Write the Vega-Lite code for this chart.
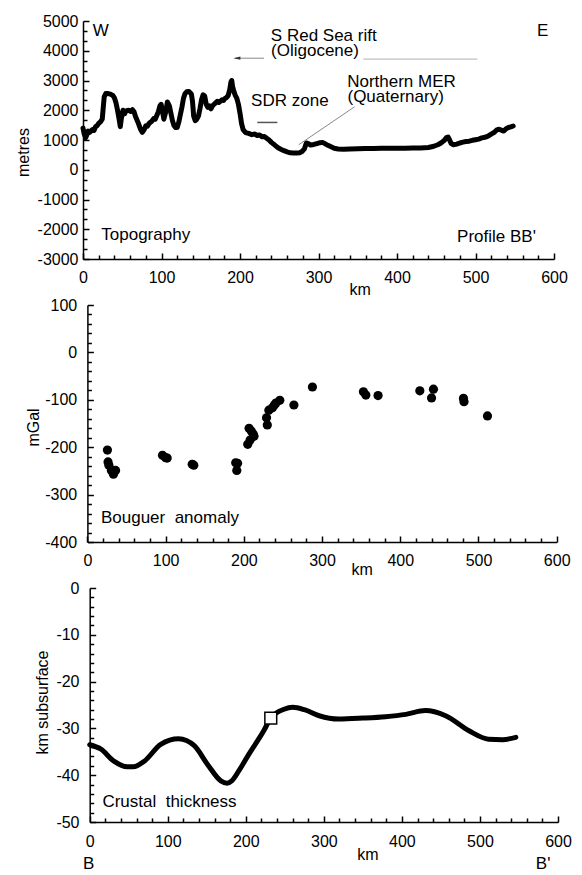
{
  "$schema": "https://vega.github.io/schema/vega-lite/v6.json",
  "padding": {"left": 15, "top": 13, "right": 0, "bottom": 0},
  "config": {
    "font": "Liberation Sans",
    "view": {"stroke": null},
    "axis": {"grid": false, "ticks": true, "domainColor": "black", "domainWidth": 1.5, "tickColor": "black", "tickWidth": 1.5, "tickSize": -6, "labelColor": "black", "labelFontSize": 16, "labelFont": "Liberation Sans", "titleFont": "Liberation Sans", "titleColor": "black", "titleFontSize": 16, "titleFontWeight": "normal", "labelFlush": false, "labelOverlap": false, "labelBound": false},
    "text": {"font": "Liberation Sans", "fontSize": 17, "color": "black"}
  },
  "spacing": 46,
  "bounds": "flush",
  "vconcat": [
    {
      "width": 475, "height": 238,
      "encoding": {
        "x": {"field": "x", "type": "quantitative",
          "scale": {"domain": [0, 600], "range": [0, 471], "nice": false, "zero": false},
          "axis": {"values": [0,20,40,60,80,100,120,140,160,180,200,220,240,260,280,300,320,340,360,380,400,420,440,460,480,500,520,540,560,580,600],
            "labelExpr": "datum.value % 100 === 0 ? '' + datum.value : ''",
            "tickSize": {"condition": {"test": "datum.value % 100 === 0", "value": -6}, "value": -4},
            "labelBaseline": "middle", "labelPadding": 24,
            "title": "km", "titleX": 276.7, "titleY": 30, "titleBaseline": "middle", "titleAlign": "center"}},
        "y": {"field": "y", "type": "quantitative",
          "scale": {"domain": [-3000, 5000], "nice": false, "zero": false},
          "axis": {"values": [-3000,-2666.67,-2333.33,-2000,-1666.67,-1333.33,-1000,-666.67,-333.33,0,333.33,666.67,1000,1333.33,1666.67,2000,2333.33,2666.67,3000,3333.33,3666.67,4000,4333.33,4666.67,5000],
            "labelExpr": "abs(datum.value % 1000) < 1 ? '' + round(datum.value) : ''",
            "tickSize": {"condition": {"test": "abs(datum.value % 1000) < 1", "value": -6}, "value": -4},
            "labelPadding": 11,
            "title": "metres", "titleX": -59.6, "titleY": 131, "titleBaseline": "middle", "titleAlign": "center", "titleAngle": -90}}
      },
      "layer": [
        {
          "data": {"values": [
            {"x":0,"y":1400},{"x":1.5,"y":1200},{"x":3.5,"y":1080},{"x":5,"y":1180},{"x":6.5,"y":1300},{"x":8,"y":1250},{"x":10,"y":1300},{"x":12,"y":1350},{"x":14,"y":1320},{"x":16,"y":1450},{"x":18,"y":1480},{"x":20,"y":1560},{"x":22.5,"y":1620},{"x":24.5,"y":1700},{"x":25.5,"y":2000},{"x":27,"y":2450},{"x":29,"y":2560},{"x":32,"y":2560},{"x":35,"y":2540},{"x":38,"y":2500},{"x":40,"y":2420},{"x":42,"y":2250},{"x":44,"y":2000},{"x":46,"y":1700},{"x":47.5,"y":1450},{"x":49,"y":1750},{"x":51,"y":2000},{"x":53,"y":1880},{"x":55,"y":1980},{"x":58,"y":2000},{"x":61,"y":1960},{"x":63,"y":2020},{"x":65,"y":1950},{"x":67,"y":1780},{"x":70,"y":1600},{"x":73,"y":1380},{"x":75.5,"y":1260},{"x":78,"y":1350},{"x":80,"y":1480},{"x":82,"y":1460},{"x":84,"y":1550},{"x":86,"y":1600},{"x":88,"y":1640},{"x":90,"y":1720},{"x":92,"y":1700},{"x":94,"y":1820},{"x":96,"y":1950},{"x":98,"y":2150},{"x":99.5,"y":2200},{"x":101,"y":2000},{"x":103,"y":1700},{"x":105,"y":1900},{"x":107.5,"y":2280},{"x":110,"y":2150},{"x":112,"y":1900},{"x":114,"y":1650},{"x":116,"y":1480},{"x":118,"y":1420},{"x":120,"y":1420},{"x":122,"y":1600},{"x":124,"y":1850},{"x":126,"y":2100},{"x":128,"y":2400},{"x":130,"y":2560},{"x":132,"y":2620},{"x":135,"y":2630},{"x":138,"y":2550},{"x":139.5,"y":2300},{"x":141,"y":1800},{"x":143,"y":1650},{"x":145,"y":1700},{"x":147,"y":1800},{"x":149,"y":2050},{"x":151,"y":2350},{"x":153,"y":2520},{"x":155,"y":2480},{"x":157,"y":2200},{"x":159,"y":2100},{"x":161,"y":2150},{"x":163,"y":2050},{"x":165,"y":2150},{"x":167,"y":2200},{"x":169,"y":2250},{"x":171,"y":2300},{"x":173,"y":2260},{"x":175,"y":2300},{"x":177,"y":2350},{"x":179,"y":2330},{"x":181,"y":2400},{"x":183,"y":2430},{"x":185,"y":2500},{"x":187,"y":2700},{"x":188.5,"y":2950},{"x":189.5,"y":3000},{"x":190.5,"y":2800},{"x":192,"y":2650},{"x":194,"y":2500},{"x":196,"y":2400},{"x":198,"y":2200},{"x":200,"y":1900},{"x":202,"y":1550},{"x":204,"y":1350},{"x":207,"y":1250},{"x":211,"y":1220},{"x":215,"y":1180},{"x":219,"y":1200},{"x":222,"y":1150},{"x":225,"y":1170},{"x":228,"y":1110},{"x":231,"y":1120},{"x":234,"y":1060},{"x":237,"y":1000},{"x":240,"y":920},{"x":243,"y":860},{"x":246,"y":790},{"x":249,"y":730},{"x":252,"y":690},{"x":256,"y":640},{"x":260,"y":600},{"x":264,"y":570},{"x":268,"y":560},{"x":272,"y":560},{"x":276,"y":570},{"x":279,"y":610},{"x":282,"y":700},{"x":284.5,"y":900},{"x":287,"y":880},{"x":290,"y":830},{"x":294,"y":850},{"x":298,"y":880},{"x":302,"y":910},{"x":305,"y":920},{"x":308,"y":880},{"x":312,"y":820},{"x":316,"y":770},{"x":320,"y":720},{"x":325,"y":700},{"x":332,"y":690},{"x":340,"y":700},{"x":350,"y":710},{"x":360,"y":715},{"x":370,"y":715},{"x":380,"y":720},{"x":390,"y":720},{"x":400,"y":720},{"x":410,"y":725},{"x":420,"y":730},{"x":430,"y":735},{"x":440,"y":750},{"x":447,"y":790},{"x":452,"y":840},{"x":456,"y":900},{"x":460,"y":980},{"x":463,"y":1080},{"x":465,"y":1100},{"x":467,"y":1000},{"x":469,"y":880},{"x":472,"y":840},{"x":476,"y":860},{"x":480,"y":900},{"x":484,"y":930},{"x":488,"y":950},{"x":492,"y":960},{"x":496,"y":990},{"x":500,"y":1010},{"x":504,"y":1030},{"x":508,"y":1070},{"x":512,"y":1090},{"x":516,"y":1130},{"x":520,"y":1200},{"x":524,"y":1260},{"x":527,"y":1340},{"x":530,"y":1360},{"x":533,"y":1330},{"x":536,"y":1300},{"x":539,"y":1380},{"x":542,"y":1420},{"x":545,"y":1440},{"x":548,"y":1470}
          ]},
          "mark": {"type": "line", "color": "black", "strokeWidth": 5, "strokeJoin": "round", "strokeCap": "round"}
        },
        {
          "data": {"values": [{"x": 357, "y": 3720, "x2": 502.4, "y2": 3720}]},
          "mark": {"type": "rule", "color": "#b0b0b0", "strokeWidth": 1},
          "encoding": {"x2": {"field": "x2"}, "y2": {"field": "y2"}}
        },
        {
          "data": {"values": [{"x": 194, "y": 3750, "x2": 230.6, "y2": 3750}]},
          "mark": {"type": "rule", "color": "#888888", "strokeWidth": 1},
          "encoding": {"x2": {"field": "x2"}, "y2": {"field": "y2"}}
        },
        {
          "data": {"values": [{"x": 346, "y": 2118, "x2": 274.8, "y2": 840}]},
          "mark": {"type": "rule", "color": "#888888", "strokeWidth": 1},
          "encoding": {"x2": {"field": "x2"}, "y2": {"field": "y2"}}
        },
        {
          "data": {"values": [{"x": 222, "y": 1590, "x2": 247.6, "y2": 1590}]},
          "mark": {"type": "rule", "color": "#555555", "strokeWidth": 1.5},
          "encoding": {"x2": {"field": "x2"}, "y2": {"field": "y2"}}
        },
        {
          "data": {"values": [{"x": 196, "y": 3750}]},
          "mark": {"type": "point", "shape": "M1,-0.45L-1,0L1,0.45Z", "filled": true, "color": "#333333", "opacity": 1, "size": 50}
        },
        {
          "data": {"values": [
            {"x": 22.5, "y": 4680, "t": "W"},
            {"x": 585.6, "y": 4650, "t": "E"},
            {"x": 306.7, "y": 4500, "t": "S Red Sea rift"},
            {"x": 295.5, "y": 4000, "t": "(Oligocene)"},
            {"x": 263.5, "y": 2296, "t": "SDR zone"},
            {"x": 405.7, "y": 2950, "t": "Northern MER"},
            {"x": 398.3, "y": 2430, "t": "(Quaternary)"},
            {"x": 79.9, "y": -2185, "t": "Topography"},
            {"x": 526.8, "y": -2262, "t": "Profile BB'"}
          ]},
          "mark": {"type": "text", "align": "center", "baseline": "middle"},
          "encoding": {"text": {"field": "t"}}
        }
      ]
    },
    {
      "width": 475, "height": 237,
      "encoding": {
        "x": {"field": "x", "type": "quantitative",
          "scale": {"domain": [0, 600], "range": [4.4, 473.7], "nice": false, "zero": false},
          "axis": {"values": [0,20,40,60,80,100,120,140,160,180,200,220,240,260,280,300,320,340,360,380,400,420,440,460,480,500,520,540,560,580,600],
            "labelExpr": "datum.value % 100 === 0 ? '' + datum.value : ''",
            "tickSize": {"condition": {"test": "datum.value % 100 === 0", "value": -6}, "value": -4},
            "labelBaseline": "middle", "labelPadding": 24.3,
            "title": "km", "titleX": 278.7, "titleY": 27.6, "titleBaseline": "middle", "titleAlign": "center"}},
        "y": {"field": "y", "type": "quantitative",
          "scale": {"domain": [-400, 100], "nice": false, "zero": false},
          "axis": {"values": [-400,-380,-360,-340,-320,-300,-280,-260,-240,-220,-200,-180,-160,-140,-120,-100,-80,-60,-40,-20,0,20,40,60,80,100],
            "labelExpr": "datum.value % 100 === 0 ? '' + datum.value : ''",
            "tickSize": {"condition": {"test": "datum.value % 100 === 0", "value": -6}, "value": -4},
            "labelPadding": 16.7, "offset": -4.4,
            "title": "mGal", "titleX": -53.7, "titleY": 122, "titleBaseline": "middle", "titleAlign": "center", "titleAngle": -90}}
      },
      "layer": [
        {
          "data": {"values": [
            {"x":25.6,"y":-206},{"x":26.4,"y":-231},{"x":27.5,"y":-238},{"x":30.7,"y":-249},{"x":33.3,"y":-257},{"x":36,"y":-249},{"x":96,"y":-217},{"x":100,"y":-222},{"x":102,"y":-223},{"x":134,"y":-236},{"x":136,"y":-238},{"x":189.6,"y":-233},{"x":192,"y":-234},{"x":191,"y":-249},{"x":205,"y":-194},{"x":208,"y":-185},{"x":206.7,"y":-160},{"x":209.5,"y":-166},{"x":212,"y":-172},{"x":213,"y":-177},{"x":229,"y":-138},{"x":230,"y":-153},{"x":232,"y":-122},{"x":236.6,"y":-117},{"x":239,"y":-111},{"x":241,"y":-107},{"x":246,"y":-101},{"x":264,"y":-111},{"x":287.7,"y":-73},{"x":352.9,"y":-83},{"x":356,"y":-90},{"x":371.6,"y":-91},{"x":425,"y":-81},{"x":442.4,"y":-77.5},{"x":440,"y":-96},{"x":480.8,"y":-97},{"x":481.5,"y":-104},{"x":511.5,"y":-134}
          ]},
          "mark": {"type": "point", "shape": "circle", "filled": true, "color": "black", "opacity": 1, "size": 85}
        },
        {
          "data": {"values": [{"x": 105.5, "y": -349, "t": "Bouguer\u00a0 anomaly"}]},
          "mark": {"type": "text", "align": "center", "baseline": "middle"},
          "encoding": {"text": {"field": "t"}}
        }
      ]
    },
    {
      "width": 475, "height": 234,
      "encoding": {
        "x": {"field": "x", "type": "quantitative",
          "scale": {"domain": [0, 600], "range": [6.7, 475], "nice": false, "zero": false},
          "axis": {"values": [0,20,40,60,80,100,120,140,160,180,200,220,240,260,280,300,320,340,360,380,400,420,440,460,480,500,520,540,560,580,600],
            "labelExpr": "datum.value % 100 === 0 ? '' + datum.value : ''",
            "tickSize": {"condition": {"test": "datum.value % 100 === 0", "value": -6}, "value": -4},
            "labelBaseline": "middle", "labelPadding": 25,
            "title": "km", "titleX": 284.4, "titleY": 32, "titleBaseline": "middle", "titleAlign": "center"}},
        "y": {"field": "y", "type": "quantitative",
          "scale": {"domain": [-50, 0], "nice": false, "zero": false},
          "axis": {"values": [-50,-48,-46,-44,-42,-40,-38,-36,-34,-32,-30,-28,-26,-24,-22,-20,-18,-16,-14,-12,-10,-8,-6,-4,-2,0],
            "labelExpr": "datum.value % 10 === 0 ? '' + datum.value : ''",
            "tickSize": {"condition": {"test": "datum.value % 10 === 0", "value": -6}, "value": -4},
            "labelPadding": 16.7, "offset": -6.7,
            "title": "km subsurface", "titleX": -47.3, "titleY": 114, "titleBaseline": "middle", "titleAlign": "center", "titleAngle": -90}}
      },
      "layer": [
        {
          "data": {"values": [
            {"x":0,"y":-33.5},{"x":14,"y":-34.4},{"x":31,"y":-37},{"x":48,"y":-38.2},{"x":56,"y":-38.2},{"x":70,"y":-37},{"x":91,"y":-33.4},{"x":114,"y":-32.2},{"x":134,"y":-33.7},{"x":151,"y":-37.7},{"x":168,"y":-41.2},{"x":176,"y":-41.7},{"x":182,"y":-41.2},{"x":191,"y":-39.1},{"x":204,"y":-35.5},{"x":223,"y":-30.5},{"x":232,"y":-27.8},{"x":249,"y":-25.9},{"x":260,"y":-25.5},{"x":275,"y":-26.0},{"x":294,"y":-27.3},{"x":319,"y":-28.0},{"x":350,"y":-27.8},{"x":379,"y":-27.5},{"x":405,"y":-27.0},{"x":430,"y":-26.2},{"x":456,"y":-27.3},{"x":486,"y":-30.5},{"x":511,"y":-32.3},{"x":529,"y":-32.4},{"x":546,"y":-31.9}
          ]},
          "mark": {"type": "line", "color": "black", "strokeWidth": 5, "interpolate": "monotone", "strokeCap": "round"}
        },
        {
          "data": {"values": [{"x": 232, "y": -27.8}]},
          "mark": {"type": "point", "shape": "square", "filled": true, "fill": "white", "stroke": "black", "strokeWidth": 1.5, "opacity": 1, "size": 140}
        },
        {
          "data": {"values": [
            {"x": 102.2, "y": -45.7, "t": "Crustal\u00a0 thickness"},
            {"x": -1.3, "y": -59, "t": "B"},
            {"x": 581, "y": -59, "t": "B'"}
          ]},
          "mark": {"type": "text", "align": "center", "baseline": "middle"},
          "encoding": {"text": {"field": "t"}}
        }
      ]
    }
  ]
}
